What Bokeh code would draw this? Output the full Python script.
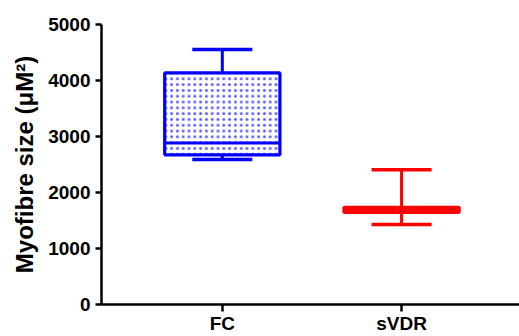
from bokeh.plotting import figure
from bokeh.models import Range1d, FixedTicker
from bokeh.embed import file_html
from bokeh.resources import INLINE

categories = ["FC", "sVDR"]
x_pos = [1, 2]
whisker_low = [2590, 1430]
q1 = [2672, 1646]
median = [2885, 1690]
q3 = [4135, 1735]
whisker_high = [4555, 2405]
colors = ["#0000FF", "#FF0000"]
y_ticks = [0, 1000, 2000, 3000, 4000, 5000]

box_w = 0.643
cap_w = 0.335

p = figure(width=519, height=336, output_backend="svg", toolbar_location=None,
           x_range=Range1d(0.326, 2.658), y_range=Range1d(0, 5000),
           min_border_top=24, min_border_right=0, min_border_bottom=0, min_border_left=101)
p.outline_line_color = None
p.xgrid.grid_line_color = None
p.ygrid.grid_line_color = None
p.background_fill_color = "white"

font = "Liberation Sans"

# boxes
p.vbar(x=[x_pos[0]], width=box_w, bottom=[q1[0]], top=[q3[0]],
       fill_color="white", line_color=colors[0], line_width=3.2,
       hatch_pattern="dot", hatch_color=colors[0], hatch_scale=5.8,
       hatch_weight=1.0, hatch_alpha=0.65)
p.vbar(x=[x_pos[1]], width=box_w, bottom=[q1[1]], top=[q3[1]],
       fill_color=colors[1], line_color=colors[1], line_width=3.2)

# whiskers
p.segment(x0=x_pos, y0=q3, x1=x_pos, y1=whisker_high, line_color=colors, line_width=3)
p.segment(x0=x_pos, y0=whisker_low, x1=x_pos, y1=q1, line_color=colors, line_width=3)
# caps
xl = [x - cap_w / 2 for x in x_pos]
xr = [x + cap_w / 2 for x in x_pos]
p.segment(x0=xl, y0=whisker_high, x1=xr, y1=whisker_high, line_color=colors, line_width=3.5)
p.segment(x0=xl, y0=whisker_low, x1=xr, y1=whisker_low, line_color=colors, line_width=3.5)
# medians
bl = [x - box_w / 2 for x in x_pos]
br = [x + box_w / 2 for x in x_pos]
p.segment(x0=bl, y0=median, x1=br, y1=median, line_color=colors, line_width=3)

# axes
p.xaxis.ticker = FixedTicker(ticks=x_pos)
p.xaxis.major_label_overrides = {x: c for x, c in zip(x_pos, categories)}
p.yaxis.ticker = FixedTicker(ticks=y_ticks)
for ax in (p.xaxis[0], p.yaxis[0]):
    ax.axis_line_width = 2.5
    ax.axis_line_color = "black"
    ax.major_tick_line_width = 2.5
    ax.major_tick_line_color = "black"
    ax.major_tick_in = 0
    ax.minor_tick_line_color = None
    ax.major_label_text_font = font
    ax.major_label_text_font_style = "bold"
    ax.major_label_text_font_size = "19px"
    ax.major_label_text_color = "black"
p.xaxis.major_tick_out = 7
p.xaxis.major_label_standoff = 1
p.yaxis.major_tick_out = 6
p.yaxis.major_label_standoff = 5
p.yaxis.axis_label = "Myofibre size (μM²)"
p.yaxis.axis_label_text_font = font
p.yaxis.axis_label_text_font_style = "bold"
p.yaxis.axis_label_text_font_size = "24px"
p.yaxis.axis_label_text_color = "black"
p.yaxis.axis_label_standoff = 7

open("out.html", "w").write(file_html(p, INLINE))
